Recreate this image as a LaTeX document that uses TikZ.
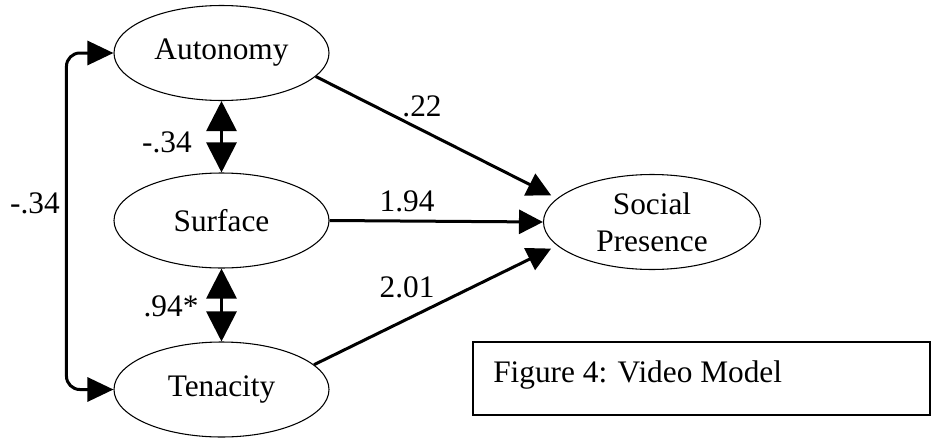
\documentclass[tikz,border=0pt]{standalone}
\usepackage{fontspec}
\setmainfont{Liberation Serif}
\usetikzlibrary{shapes.geometric,arrows.meta}

\tikzset{
    latent/.style={ellipse,draw,line width=0.8pt,minimum width=161.25pt,minimum height=71.25pt,inner sep=0pt,align=center},
    regarrow/.style={line width=2.25pt,-{Triangle[length=18pt,width=18pt]}},
    covarrow/.style={line width=2.25pt,{Triangle[length=22.5pt,width=22.5pt]}-{Triangle[length=22.5pt,width=22.5pt]}},
    sidearrow/.style={line width=2.25pt,rounded corners=10pt,{Triangle[length=19.5pt,width=18pt]}-{Triangle[length=19.5pt,width=18pt]}},
    coef/.style={inner sep=0pt}
}

\begin{document}
\begin{tikzpicture}[x=0.75pt,y=-0.75pt,font=\fontsize{23.5}{27.75}\selectfont]
        \useasboundingbox (0,0) rectangle (932,443);

        % Latent variables
        \node[latent] (aut) at (221.5,53) {Autonomy};
        \node[latent] (sur) at (221.5,220.5) {Surface};
        \node[latent] (ten) at (221.5,389.5) {Tenacity};
        \node[latent,minimum width=162.75pt] (sp) at (652,222) {Social\\Presence};

        % Covariances
        \draw[covarrow] (aut.south) -- (sur.north);
        \draw[covarrow] (sur.south) -- (ten.north);
        \draw[sidearrow] (aut.west) -- ++(-47,0) |- (ten.west);

        % Paths to social presence
        \draw[regarrow,shorten >=5pt] (aut.-14) -- (sp.166);
        \draw[regarrow] (sur.east) -- (sp.west);
        \draw[regarrow,shorten >=5pt] (ten.15) -- (sp.194.6);

        % Coefficients
        \node[coef] (c1) at (35,203) {-.34};
        \node[coef] (c2) at (167,142) {-.34};
        \node[coef] (c3) at (171,306) {.94*};
        \node[coef] (c4) at (422,106) {.22};
        \node[coef] (c5) at (407,201) {1.94};
        \node[coef] (c6) at (407,287) {2.01};

        % Caption box
        \node[draw,line width=1.2pt,minimum width=342.75pt,minimum height=54.75pt,inner sep=0pt] (capbox) at (701.5,378.5) {};
        \node[anchor=base west,inner sep=0pt] (captxt) at (493,382) {Figure 4: Video Model};
\end{tikzpicture}
\end{document}
